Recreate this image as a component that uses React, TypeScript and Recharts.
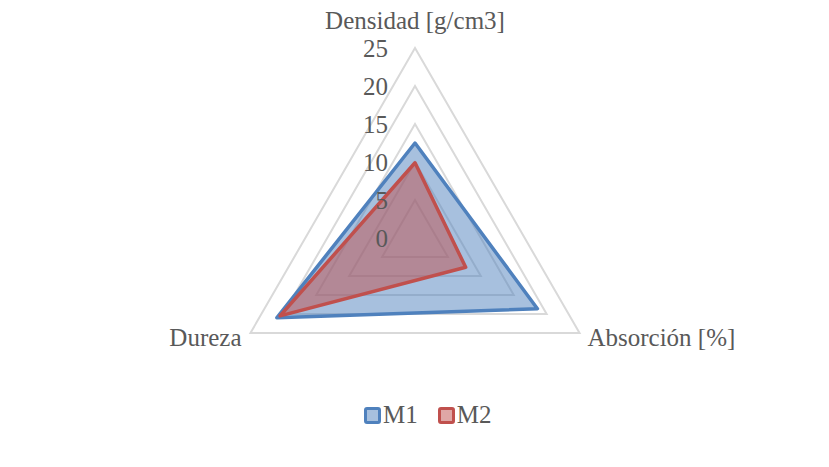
import { RadarChart, Radar, PolarGrid, PolarAngleAxis, PolarRadiusAxis } from "recharts";

const categories = ["Densidad [g/cm3]", "Absorción [%]", "Dureza"];
const m1Values = [12.5, 18.6, 21];
const m2Values = [9.9, 7.7, 20.5];
const radiusTicks = [0, 5, 10, 15, 20, 25];

const data = categories.map((name, i) => ({ name, M1: m1Values[i], M2: m2Values[i] }));

const FONT = "'Liberation Serif', 'Times New Roman', serif";
const TEXT = "#595959";

const series = [
    { key: "M1", stroke: "#4f81bd", fill: "#a7c0de" },
    { key: "M2", stroke: "#c0504d", fill: "#dfa7a6" },
];

// eslint-disable-next-line @typescript-eslint/no-explicit-any
const AngleTick = (props: any) => {
    const { x, y, payload, textAnchor } = props;
    let dx = 0;
    let dy = 0;
    if (textAnchor === "middle") {
        dy = -20;
    } else if (textAnchor === "end") {
        dx = -2;
        dy = 0;
    } else {
        dx = 1;
        dy = 0;
    }
    return (
        <text x={x + dx} y={y + dy} textAnchor={textAnchor} dominantBaseline="central"
            fontFamily={FONT} fontSize={25} fill={TEXT}>
            {payload.value}
        </text>
    );
};

// eslint-disable-next-line @typescript-eslint/no-explicit-any
const RadiusTick = (props: any) => {
    const { x, y, payload } = props;
    return (
        <text x={x - 27} y={y} textAnchor="end" dominantBaseline="central"
            fontFamily={FONT} fontSize={25} fill={TEXT}>
            {payload.value}
        </text>
    );
};

export default function App() {
    return (
        <div style={{ position: "absolute", left: 0, top: 0, width: 829, height: 467, background: "#fff" }}>
            <RadarChart width={829} height={467} data={data} cx={415} cy={238} outerRadius={190}
                margin={{ top: 0, right: 0, bottom: 0, left: 0 }}>
                <PolarGrid gridType="polygon" radialLines={false} stroke="#d9d9d9" strokeWidth={2} />
                <PolarAngleAxis dataKey="name" tick={AngleTick} tickLine={false} axisLine={false} />
                <PolarRadiusAxis angle={90} domain={[0, 25]} ticks={radiusTicks} tickCount={6}
                    axisLine={false} tickLine={false} tick={RadiusTick} orientation="left" />
                {series.map((s) => (
                    <Radar key={s.key} dataKey={s.key} stroke={s.stroke} strokeWidth={3.5}
                        strokeLinejoin="round" fill={s.stroke} fillOpacity={0.5}
                        isAnimationActive={false} />
                ))}
            </RadarChart>
            <div style={{ position: "absolute", top: 401, left: 364, display: "flex",
                gap: 20, fontFamily: FONT, fontSize: 25, color: TEXT }}>
                {series.map((s) => (
                    <div key={s.key} style={{ display: "flex", alignItems: "center", gap: 2 }}>
                        <span style={{ display: "inline-block", width: 11, height: 11,
                            border: `3px solid ${s.stroke}`, background: s.fill, borderRadius: 3 }} />
                        <span>{s.key}</span>
                    </div>
                ))}
            </div>
        </div>
    );
}
